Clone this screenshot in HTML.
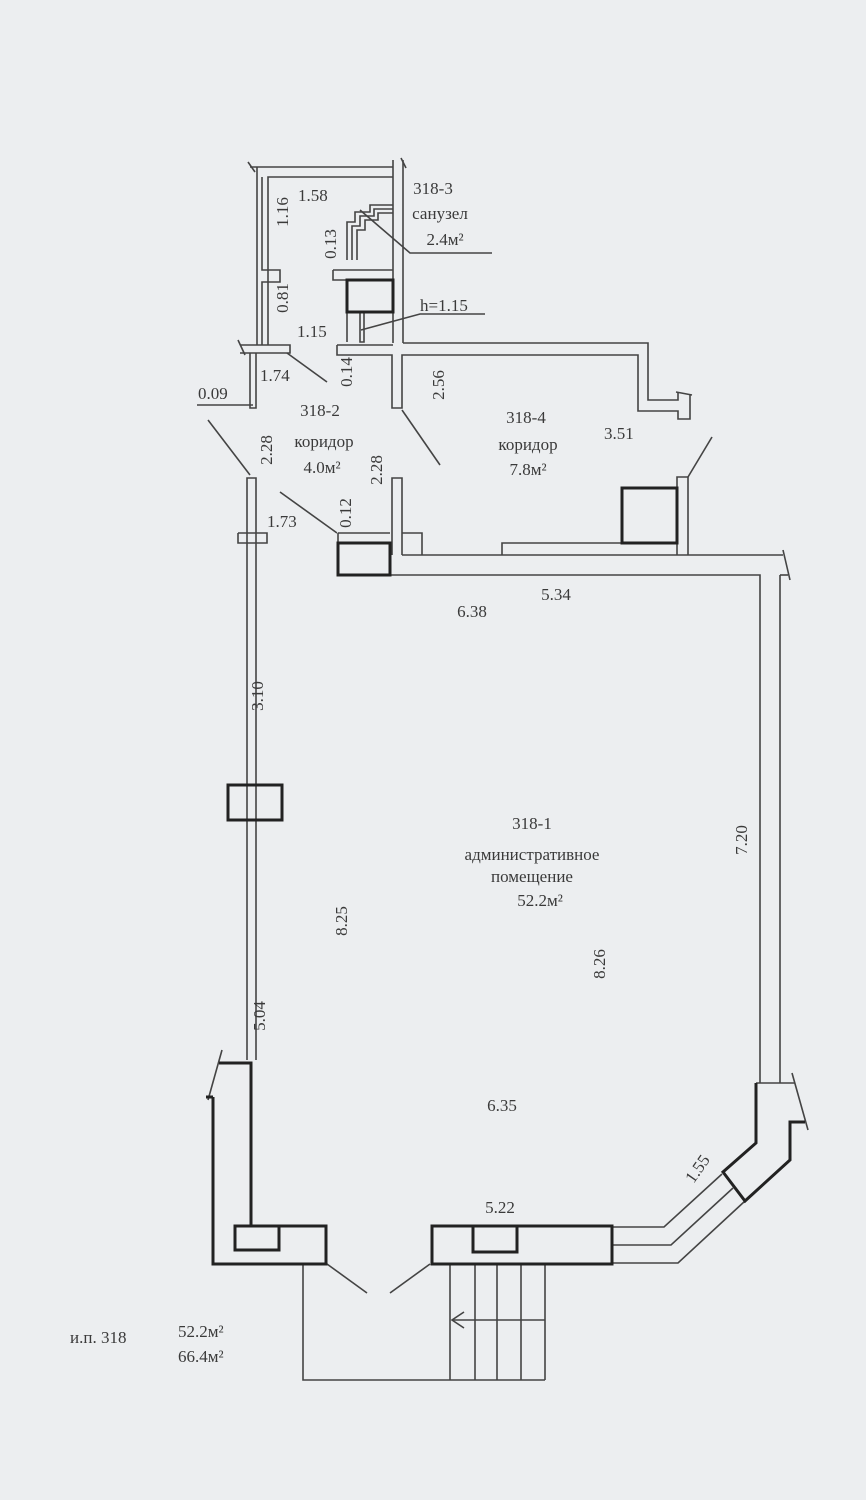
<!DOCTYPE html>
<html><head><meta charset="utf-8"><style>
html,body{margin:0;padding:0;background:#eceef0;}
svg{display:block}
text{font-family:"Liberation Serif",serif;font-size:17px;fill:#3a3a3a}
</style></head><body>
<svg width="866" height="1500" viewBox="0 0 866 1500" xmlns="http://www.w3.org/2000/svg">
<rect width="866" height="1500" fill="#eceef0"/>
<g fill="none" stroke="#444" stroke-width="1.6">
<polyline points="250,167 393,167"/>
<line x1="248" y1="162" x2="255" y2="172"/>
<polyline points="268,345 268,177 393,177"/>
<polyline points="257,167 257,345"/>
<polyline points="262,177 262,270 280,270 280,282 262,282 262,345"/>
<line x1="393" y1="160" x2="393" y2="343"/>
<line x1="403" y1="160" x2="403" y2="343"/>
<line x1="401" y1="158" x2="406" y2="168"/>
<polyline points="240,345 290,345 290,353 240,353"/>
<line x1="238" y1="340" x2="245" y2="355"/>
<polyline points="250,353 250,408 256,408 256,353"/>
<polyline points="403,343 648,343 648,400 678,400 678,392"/>
<polyline points="337,345 393,345"/>
<polyline points="337,345 337,355 392,355 392,408 402,408 402,355 638,355 638,411 678,411 678,419 690,419 690,395"/>
<line x1="676" y1="392" x2="692" y2="395"/>
<polyline points="333,270 393,270"/>
<polyline points="333,270 333,280 393,280"/>
<polyline points="347,312 347,342"/>
<polyline points="360,313 360,342 364,342 364,313"/>
<polyline points="347,260 347,222 355,222 355,212 370,212 370,205 393,205"/>
<polyline points="352,260 352,226 360,226 360,216 374,216 374,209 393,209"/>
<polyline points="357,260 357,230 365,230 365,220 378,220 378,213 393,213"/>
<polyline points="247,1060 247,478 256,478 256,1060"/>
<polyline points="238,533 267,533 267,543 238,543 238,533"/>
<polyline points="338,533 390,533"/>
<polyline points="338,533 338,543"/>
<polyline points="392,555 392,478 402,478 402,555"/>
<polyline points="402,533 422,533 422,555"/>
<polyline points="502,555 502,543 622,543"/>
<polyline points="677,555 677,477 688,477 688,555"/>
<polyline points="402,555 783,555"/>
<line x1="783" y1="550" x2="790" y2="580"/>
<polyline points="390,575 760,575 760,1083"/>
<polyline points="780,575 780,1083"/>
<line x1="780" y1="575" x2="788" y2="575"/>
<polyline points="756,1083 795,1083"/>
<line x1="792" y1="1073" x2="808" y2="1130"/>
<line x1="197" y1="405" x2="253" y2="405"/>
<line x1="208" y1="420" x2="250" y2="475"/>
<line x1="280" y1="492" x2="337" y2="533"/>
<line x1="402" y1="410" x2="440" y2="465"/>
<line x1="688" y1="477" x2="712" y2="437"/>
<line x1="287" y1="353" x2="327" y2="382"/>
<polyline points="360,210 410,253 492,253"/>
<polyline points="361,330 420,314 485,314"/>
<line x1="208" y1="1100" x2="222" y2="1050"/>
<polyline points="303,1264 303,1380 545,1380"/>
<line x1="450" y1="1264" x2="450" y2="1380"/>
<line x1="475" y1="1264" x2="475" y2="1380"/>
<line x1="497" y1="1264" x2="497" y2="1380"/>
<line x1="521" y1="1264" x2="521" y2="1380"/>
<line x1="545" y1="1264" x2="545" y2="1380"/>
<line x1="452" y1="1320" x2="545" y2="1320"/>
<polyline points="464,1312 452,1320 464,1328"/>
<line x1="327" y1="1264" x2="367" y2="1293"/>
<line x1="430" y1="1264" x2="390" y2="1293"/>
<polyline points="611,1227 664,1227 722,1174"/>
<polyline points="611,1245 671,1245 733,1188"/>
<polyline points="611,1263 678,1263 745,1201"/>
</g>
<g fill="none" stroke="#222" stroke-width="3">
<rect x="347" y="280" width="46" height="32"/>
<rect x="338" y="543" width="52" height="32"/>
<rect x="622" y="488" width="55" height="55"/>
<rect x="228" y="785" width="54" height="35"/>
<polyline points="219,1063 251,1063 251,1226"/>
<polyline points="213,1097 213,1264 326,1264 326,1226 251,1226"/>
<line x1="213" y1="1097" x2="206" y2="1097"/>
<rect x="235" y="1226" width="44" height="24"/>
<rect x="432" y="1226" width="180" height="38"/>
<rect x="473" y="1226" width="44" height="26"/>
<polyline points="756,1083 756,1143 723,1172 745,1201 790,1160 790,1122 805,1122"/>
</g>
<g>
<text x="298" y="201">1.58</text>
<text transform="translate(288,212) rotate(-90)" text-anchor="middle">1.16</text>
<text x="433" y="194" text-anchor="middle">318-3</text>
<text x="440" y="219" text-anchor="middle">санузел</text>
<text x="445" y="245" text-anchor="middle">2.4м²</text>
<text transform="translate(336,244) rotate(-90)" text-anchor="middle">0.13</text>
<text transform="translate(288,298) rotate(-90)" text-anchor="middle">0.81</text>
<text x="297" y="337">1.15</text>
<text x="420" y="311">h=1.15</text>
<text x="260" y="381">1.74</text>
<text x="198" y="399">0.09</text>
<text transform="translate(352,372) rotate(-90)" text-anchor="middle">0.14</text>
<text transform="translate(444,385) rotate(-90)" text-anchor="middle">2.56</text>
<text x="320" y="416" text-anchor="middle">318-2</text>
<text x="324" y="447" text-anchor="middle">коридор</text>
<text x="322" y="473" text-anchor="middle">4.0м²</text>
<text transform="translate(272,450) rotate(-90)" text-anchor="middle">2.28</text>
<text transform="translate(382,470) rotate(-90)" text-anchor="middle">2.28</text>
<text x="526" y="423" text-anchor="middle">318-4</text>
<text x="528" y="450" text-anchor="middle">коридор</text>
<text x="528" y="475" text-anchor="middle">7.8м²</text>
<text x="604" y="439">3.51</text>
<text transform="translate(351,513) rotate(-90)" text-anchor="middle">0.12</text>
<text x="267" y="527">1.73</text>
<text x="472" y="617" text-anchor="middle">6.38</text>
<text x="556" y="600" text-anchor="middle">5.34</text>
<text transform="translate(263,696) rotate(-90)" text-anchor="middle">3.10</text>
<text x="532" y="829" text-anchor="middle">318-1</text>
<text x="532" y="860" text-anchor="middle">административное</text>
<text x="532" y="882" text-anchor="middle">помещение</text>
<text x="540" y="906" text-anchor="middle">52.2м²</text>
<text transform="translate(747,840) rotate(-90)" text-anchor="middle">7.20</text>
<text transform="translate(347,921) rotate(-90)" text-anchor="middle">8.25</text>
<text transform="translate(605,964) rotate(-90)" text-anchor="middle">8.26</text>
<text transform="translate(265,1016) rotate(-90)" text-anchor="middle">5.04</text>
<text x="502" y="1111" text-anchor="middle">6.35</text>
<text x="500" y="1213" text-anchor="middle">5.22</text>
<text transform="translate(702,1172) rotate(-55)" text-anchor="middle">1.55</text>
<text x="70" y="1343">и.п. 318</text>
<text x="178" y="1337">52.2м²</text>
<text x="178" y="1362">66.4м²</text>
</g>
</svg>
</body></html>
